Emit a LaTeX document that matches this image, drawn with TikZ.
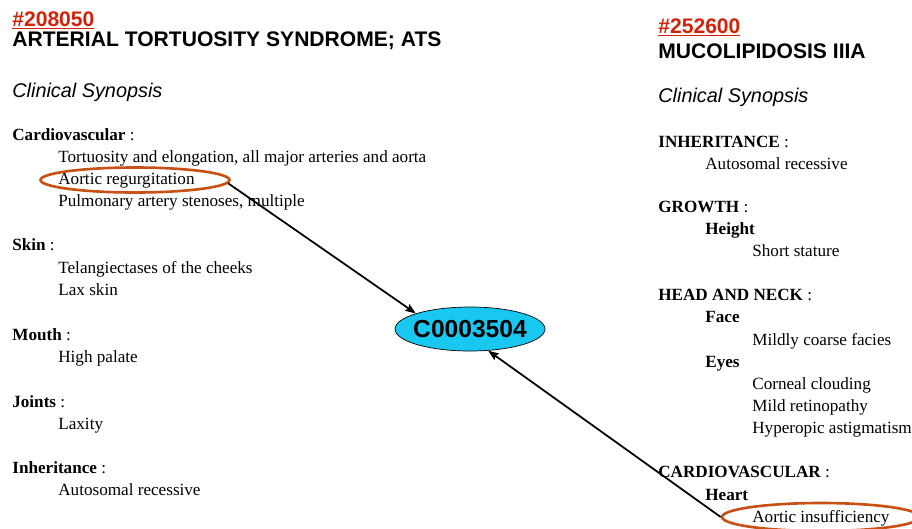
\documentclass[tikz,border=0pt]{standalone}
\usepackage{fontspec}
\setmainfont{Liberation Serif}
\newfontfamily\arial{Liberation Sans}
\usetikzlibrary{arrows.meta}
\usetikzlibrary{shapes.geometric}

\definecolor{omimred}{RGB}{210,35,10}
\definecolor{ringorange}{RGB}{200,80,20}
\definecolor{cuicyan}{RGB}{25,200,240}

\tikzset{
  item/.style={anchor=base west, inner sep=0pt, font=\fontsize{9.75}{11}\selectfont},
  omimno/.style={anchor=base west, inner sep=0pt, text=omimred, font=\arial\bfseries\fontsize{12}{14}\selectfont},
  title/.style={anchor=base west, inner sep=0pt, font=\arial\bfseries\fontsize{12}{14}\selectfont},
  synopsis/.style={anchor=base west, inner sep=0pt, font=\arial\itshape\fontsize{11.3}{13}\selectfont},
  ring/.style={draw=ringorange, line width=1.5pt, ellipse, inner sep=0pt},
  cui/.style={draw=black, fill=cuicyan, ellipse, inner xsep=-2.3pt, inner ysep=0pt,
    minimum width=3cm, minimum height=0.88cm, font=\arial\bfseries\fontsize{14}{16}\selectfont},
  link/.style={-{Stealth[length=6pt, width=4.5pt, inset=1pt]}, line width=1pt, black}
}

\begin{document}
\begin{tikzpicture}[x=0.02cm, y=-0.02cm]
    \path[use as bounding box] (0,0) rectangle (912,528);
    % Left entry.
    \node[omimno] (leftno) at (12,26) {\underline{\#208050}};
    \node[title] (lefttitle) at (12,46) {ARTERIAL TORTUOSITY SYNDROME; ATS};
    \node[synopsis] (leftsyn) at (12,97) {Clinical Synopsis};
    \foreach \y/\x/\t [count=\i] in {140/12/{\textbf{Cardiovascular} :},
        162/58/{Tortuosity and elongation, all major arteries and aorta},
        184/58/{Aortic regurgitation},
        206/58/{Pulmonary artery stenoses, multiple},
        250/12/{\textbf{Skin} :},
        273/58/{Telangiectases of the cheeks},
        295/58/{Lax skin},
        340/12/{\textbf{Mouth} :},
        362/58/{High palate},
        407/12/{\textbf{Joints} :},
        429/58/{Laxity},
        473/12/{\textbf{Inheritance} :},
        495/58/{Autosomal recessive}}
      \node[item] (left\i) at (\x,\y) {\t};
    % Right entry.
    \node[omimno] (rightno) at (658,33) {\underline{\#252600}};
    \node[title] (righttitle) at (658,58) {MUCOLIPIDOSIS IIIA};
    \node[synopsis] (rightsyn) at (658,102) {Clinical Synopsis};
    \foreach \y/\x/\t [count=\i] in {147/658/{\textbf{INHERITANCE} :},
        169/705/{Autosomal recessive},
        212/658/{\textbf{GROWTH} :},
        234/705/{\textbf{Height}},
        256/752/{Short stature},
        300/658/{\textbf{HEAD AND NECK} :},
        322/705/{\textbf{Face}},
        345/752/{Mildly coarse facies},
        367/705/{\textbf{Eyes}},
        389/752/{Corneal clouding},
        411/752/{Mild retinopathy},
        433/752/{Hyperopic astigmatism},
        477/658/{\textbf{CARDIOVASCULAR} :},
        500/705/{\textbf{Heart}},
        522/752/{Aortic insufficiency}}
      \node[item] (right\i) at (\x,\y) {\t};
    % Concept.
    \node[cui] (concept) at (470,329) {C0003504};
    % Marked findings.
    \begin{scope}
      \clip (0,0) rectangle (912,528);
      \node[ring, minimum width=3.78cm, minimum height=0.5cm] (regurg) at (135,180) {};
      \node[ring, minimum width=3.96cm, minimum height=0.56cm] (insuff) at (821,517) {};
    \end{scope}
    % Links.
    \draw[link] (regurg.-2) -- (concept.164);
    \draw[link] (insuff.west) -- (concept.-50);
  \end{tikzpicture}
\end{document}
